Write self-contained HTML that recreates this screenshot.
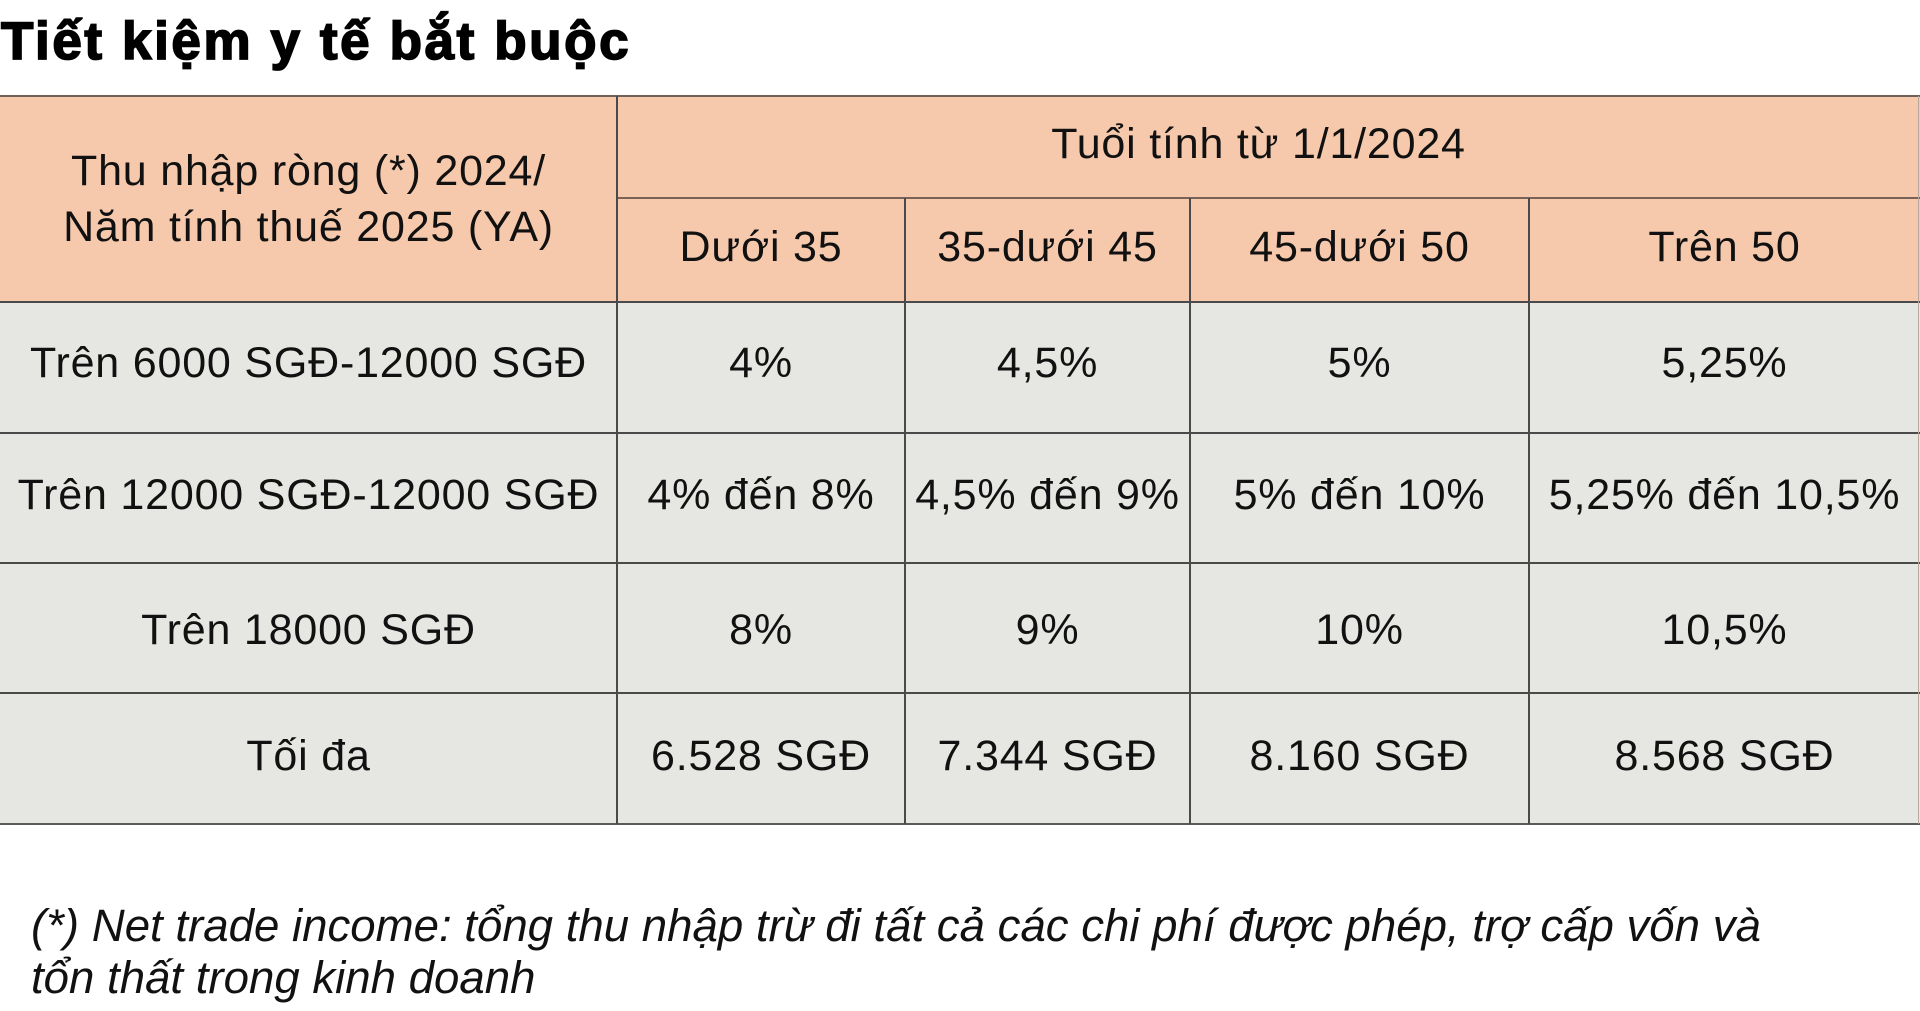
<!DOCTYPE html>
<html>
<head>
<meta charset="utf-8">
<style>
  html,body{margin:0;padding:0;background:#fff;}
  body{width:1920px;height:1011px;position:relative;overflow:hidden;font-family:"Liberation Sans",Arial,sans-serif;color:#111;}
  .title{position:absolute;left:1px;top:15px;font-size:53px;line-height:53px;font-weight:bold;letter-spacing:2.6px;-webkit-text-stroke:1.7px #000;color:#000;white-space:nowrap;}
  .bg{position:absolute;}
  .peach{background:#f6c9ac;}
  .gray{background:#e6e7e3;}
  .hl{position:absolute;height:2px;background:#4a4a4a;}
  .vl{position:absolute;width:2px;background:#4a4a4a;}
  .cell{position:absolute;display:flex;align-items:center;justify-content:center;text-align:center;font-size:43px;letter-spacing:0.8px;white-space:nowrap;box-sizing:border-box;padding-bottom:5px;}
  .foot{position:absolute;left:31px;top:900px;font-size:45.6px;line-height:52px;font-style:italic;white-space:nowrap;color:#111;}
</style>
</head>
<body>
<div class="title">Tiết kiệm y tế bắt buộc</div>

<!-- backgrounds -->
<div class="bg peach" style="left:0;top:96px;width:1920px;height:206px;"></div>
<div class="bg gray" style="left:0;top:302px;width:1920px;height:522px;"></div>

<!-- horizontal lines -->
<div class="hl" style="left:0;top:95px;width:1920px;background:#6e5f57;"></div>
<div class="hl" style="left:617px;top:197px;width:1303px;height:1.5px;background:#7a6257;"></div>
<div class="hl" style="left:0;top:301px;width:1920px;"></div>
<div class="hl" style="left:0;top:432px;width:1920px;"></div>
<div class="hl" style="left:0;top:562px;width:1920px;"></div>
<div class="hl" style="left:0;top:692px;width:1920px;"></div>
<div class="hl" style="left:0;top:823px;width:1920px;background:#5a5a5a;"></div>

<!-- vertical lines -->
<div class="vl" style="left:616px;top:96px;height:728px;"></div>
<div class="vl" style="left:904px;top:198px;height:626px;width:1.5px;"></div>
<div class="vl" style="left:1189px;top:198px;height:626px;width:1.5px;"></div>
<div class="vl" style="left:1528px;top:198px;height:626px;width:1.5px;"></div>
<div class="vl" style="left:1918px;top:96px;height:728px;width:1px;background:#b9a79c;"></div>

<!-- header -->
<div class="cell" style="left:0;top:96px;width:617px;height:206px;line-height:56px;white-space:normal;padding-bottom:0;">Thu nhập ròng (*) 2024/<br>Năm tính thuế 2025 (YA)</div>
<div class="cell" style="left:617px;top:96px;width:1303px;height:102px;padding-right:20px;">Tuổi tính từ 1/1/2024</div>
<div class="cell" style="left:617px;top:198px;width:288px;height:104px;">Dưới 35</div>
<div class="cell" style="left:905px;top:198px;width:285px;height:104px;">35-dưới 45</div>
<div class="cell" style="left:1190px;top:198px;width:339px;height:104px;">45-dưới 50</div>
<div class="cell" style="left:1529px;top:198px;width:391px;height:104px;">Trên 50</div>

<!-- row 1 -->
<div class="cell" style="left:0;top:302px;width:617px;height:131px;padding-bottom:8px;">Trên 6000 SGĐ-12000 SGĐ</div>
<div class="cell" style="left:617px;top:302px;width:288px;height:131px;padding-bottom:8px;">4%</div>
<div class="cell" style="left:905px;top:302px;width:285px;height:131px;padding-bottom:8px;">4,5%</div>
<div class="cell" style="left:1190px;top:302px;width:339px;height:131px;padding-bottom:8px;">5%</div>
<div class="cell" style="left:1529px;top:302px;width:391px;height:131px;padding-bottom:8px;">5,25%</div>

<!-- row 2 -->
<div class="cell" style="left:0;top:433px;width:617px;height:130px;">Trên 12000 SGĐ-12000 SGĐ</div>
<div class="cell" style="left:617px;top:433px;width:288px;height:130px;">4% đến 8%</div>
<div class="cell" style="left:905px;top:433px;width:285px;height:130px;">4,5% đến 9%</div>
<div class="cell" style="left:1190px;top:433px;width:339px;height:130px;">5% đến 10%</div>
<div class="cell" style="left:1529px;top:433px;width:391px;height:130px;">5,25% đến 10,5%</div>

<!-- row 3 -->
<div class="cell" style="left:0;top:563px;width:617px;height:130px;padding-bottom:0;padding-top:4px;">Trên 18000 SGĐ</div>
<div class="cell" style="left:617px;top:563px;width:288px;height:130px;padding-bottom:0;padding-top:4px;">8%</div>
<div class="cell" style="left:905px;top:563px;width:285px;height:130px;padding-bottom:0;padding-top:4px;">9%</div>
<div class="cell" style="left:1190px;top:563px;width:339px;height:130px;padding-bottom:0;padding-top:4px;">10%</div>
<div class="cell" style="left:1529px;top:563px;width:391px;height:130px;padding-bottom:0;padding-top:4px;">10,5%</div>

<!-- row 4 -->
<div class="cell" style="left:0;top:693px;width:617px;height:131px;">Tối đa</div>
<div class="cell" style="left:617px;top:693px;width:288px;height:131px;">6.528 SGĐ</div>
<div class="cell" style="left:905px;top:693px;width:285px;height:131px;">7.344 SGĐ</div>
<div class="cell" style="left:1190px;top:693px;width:339px;height:131px;">8.160 SGĐ</div>
<div class="cell" style="left:1529px;top:693px;width:391px;height:131px;">8.568 SGĐ</div>

<div class="foot">(*) Net trade income: tổng thu nhập trừ đi tất cả các chi phí được phép, trợ cấp vốn và<br>tổn thất trong kinh doanh</div>
</body>
</html>
